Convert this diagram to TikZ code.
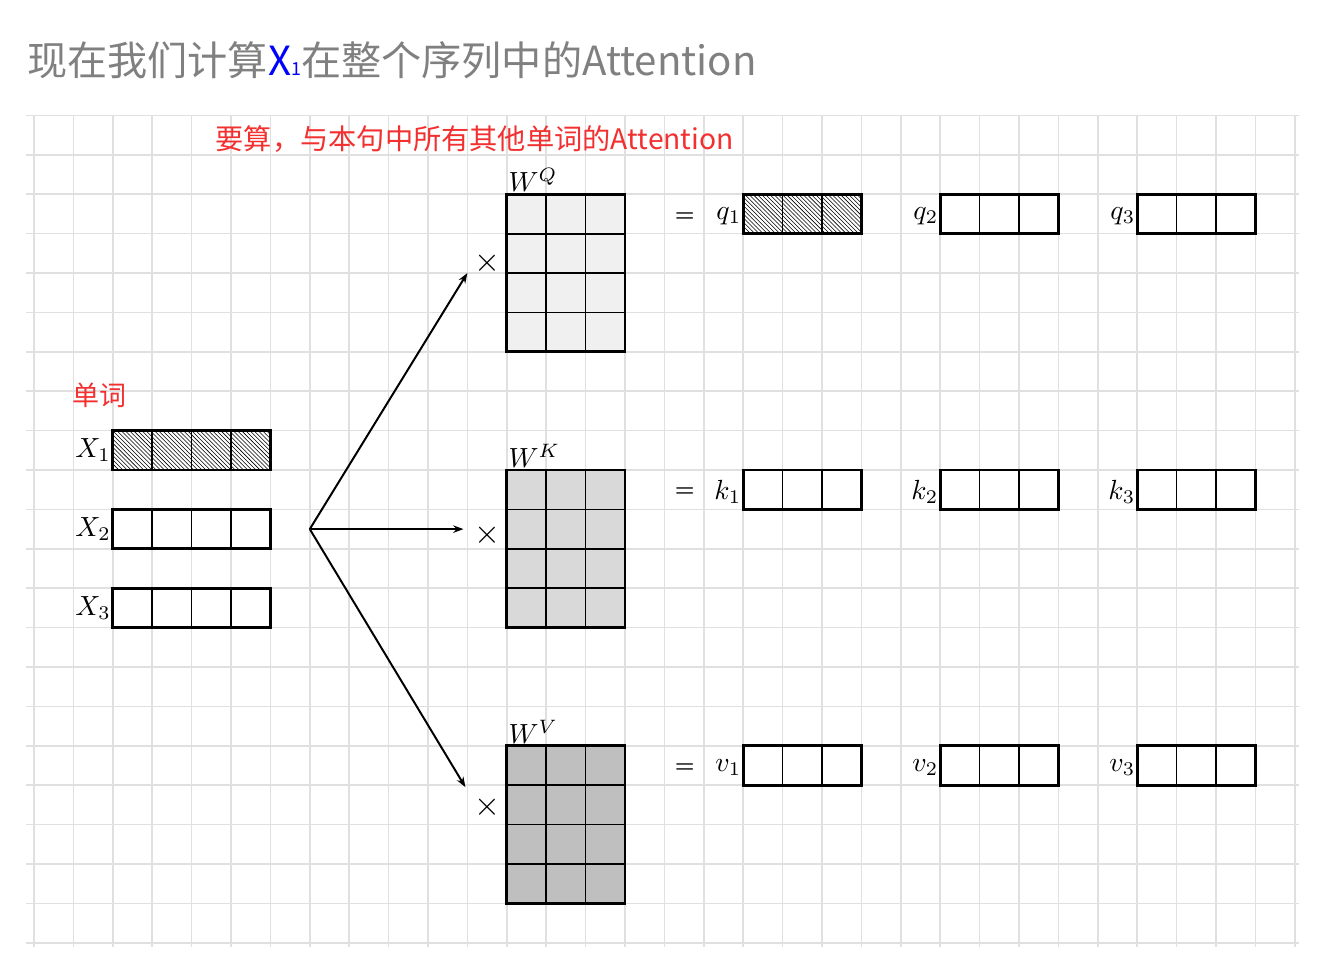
\documentclass[tikz,border=0pt]{standalone}
\usepackage{fontspec}
\newfontfamily\cjk{Noto Sans CJK SC}
\usetikzlibrary{patterns,arrows.meta}
\definecolor{titlegray}{RGB}{128,128,128}
\definecolor{notered}{RGB}{242,48,48}
\def\cellblock[#1](#2,#3)(#4:#5){\path[#1] (#2,#3) rectangle ++(#4,#5); \draw[line width=0.45mm] (#2,#3) grid ++(#4,#5); \draw[line width=0.75mm] (#2,#3) rectangle ++(#4,#5);}
\tikzset{
  lbl/.style={scale=2, inner sep=0.5pt},
  opsign/.style={scale=2.4, inner sep=0pt},
  eqsign/.style={scale=1.6, inner sep=0pt, font=\boldmath},
  fork arrow/.style={line width=0.5mm, -{Stealth[length=2.6mm,width=1.9mm]}}
}

\begin{document}
\begin{tikzpicture}
			%%%%% START %%%%%
			\useasboundingbox (-0.863,-0.482) rectangle (33.25,23.93);
			
			\draw[line width=0.4mm, color=black!12] (-0.2,-0.1) grid (32.1,21);
			
			\node[anchor=west, inner sep=0pt, text=titlegray, font=\cjk\fontsize{29}{34}\selectfont] (title) at (-0.18, 22.4) {现在我们计算{\color{blue}X\fontsize{13}{13}\selectfont 1}在整个序列中的Attention};
			\node[anchor=west, inner sep=0pt, text=notered, font=\cjk\fontsize{20.4}{24}\selectfont] (note) at (4.6, 20.4) {要算，与本句中所有其他单词的Attention};
			\node[anchor=west, inner sep=0pt, text=notered, font=\cjk\fontsize{19.5}{24}\selectfont] (words) at (0.96, 13.9) {单词};
			
			% word vectors
			\cellblock[pattern=north west lines](2,12)(4:1)
			\cellblock[fill=white](2,10)(4:1)
			\cellblock[fill=white](2,8)(4:1)
			\node[lbl, anchor=east] (x1) at (2, 12.5) {$X_1$};
			\node[lbl, anchor=east] (x2) at (2, 10.5) {$X_2$};
			\node[lbl, anchor=east] (x3) at (2, 8.5) {$X_3$};
			
			% weight matrices
			\cellblock[fill=black!6](12,15)(3:4)
			\cellblock[fill=black!15](12,8)(3:4)
			\cellblock[fill=black!25](12,1)(3:4)
			\node[lbl, anchor=south west] (wq) at (12, 19.02) {$W^Q$};
			\node[lbl, anchor=south west] (wk) at (12, 12.02) {$W^K$};
			\node[lbl, anchor=south west] (wv) at (12, 5.02) {$W^V$};
			
			\node[opsign] (timesq) at (11.5, 17.25) {$\times$};
			\node[opsign] (timesk) at (11.5, 10.35) {$\times$};
			\node[opsign] (timesv) at (11.5, 3.45) {$\times$};
			
			\coordinate (fork) at (7, 10.5);
			\coordinate (tipq) at (11, 17);
			\coordinate (tipk) at (10.9, 10.5);
			\coordinate (tipv) at (10.95, 3.95);
			\draw[fork arrow] (fork) -- (tipq);
			\draw[fork arrow] (fork) -- (tipk);
			\draw[fork arrow] (fork) -- (tipv);
			
			% results
			\node[eqsign] (eqq) at (16.52, 18.43) {$=$};
			\node[eqsign] (eqk) at (16.52, 11.43) {$=$};
			\node[eqsign] (eqv) at (16.52, 4.43) {$=$};
			
			\cellblock[pattern=north west lines](18,18)(3:1)
			\cellblock[fill=white](23,18)(3:1)
			\cellblock[fill=white](28,18)(3:1)
			\node[lbl, anchor=east] (q1) at (18, 18.45) {$q_1$};
			\node[lbl, anchor=east] (q2) at (23, 18.45) {$q_2$};
			\node[lbl, anchor=east] (q3) at (28, 18.45) {$q_3$};
			
			\cellblock[fill=white](18,11)(3:1)
			\cellblock[fill=white](23,11)(3:1)
			\cellblock[fill=white](28,11)(3:1)
			\node[lbl, anchor=east] (k1) at (18, 11.45) {$k_1$};
			\node[lbl, anchor=east] (k2) at (23, 11.45) {$k_2$};
			\node[lbl, anchor=east] (k3) at (28, 11.45) {$k_3$};
			
			\cellblock[fill=white](18,4)(3:1)
			\cellblock[fill=white](23,4)(3:1)
			\cellblock[fill=white](28,4)(3:1)
			\node[lbl, anchor=east] (v1) at (18, 4.45) {$v_1$};
			\node[lbl, anchor=east] (v2) at (23, 4.45) {$v_2$};
			\node[lbl, anchor=east] (v3) at (28, 4.45) {$v_3$};
			
			%%%%% END %%%%%
\end{tikzpicture}
\end{document}
